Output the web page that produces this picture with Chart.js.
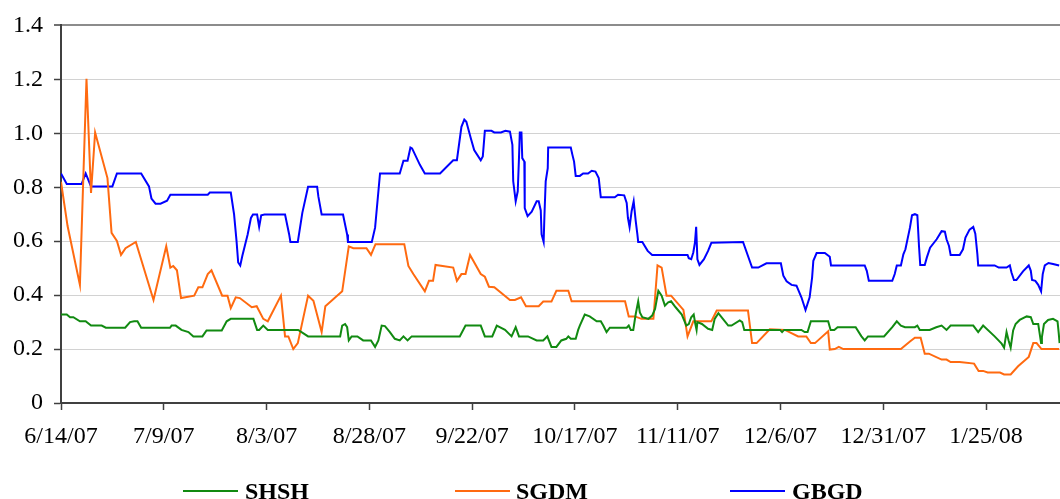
<!DOCTYPE html>
<html>
<head>
<meta charset="utf-8">
<script src="https://cdn.jsdelivr.net/npm/chart.js@4.4.0/dist/chart.umd.min.js"></script>
<style>
  body { margin: 0; background: #fff; overflow: hidden; }
  #wrap { position: relative; width: 1060px; height: 499px; }
  .key-line { position: absolute; top: 490px; width: 55px; height: 2px; }
  .key-text { position: absolute; top: 479px; font: bold 24px "Liberation Serif", "Times New Roman", serif; line-height: 24px; color: #000; }
</style>
</head>
<body>
<div id="wrap">
  <canvas id="spreads" width="1060" height="499"></canvas>
  <div class="key-line" style="left:183px;background:#118a11"></div>
  <div class="key-text" style="left:245px">SHSH</div>
  <div class="key-line" style="left:455px;background:#ff6a10"></div>
  <div class="key-text" style="left:516px">SGDM</div>
  <div class="key-line" style="left:730px;background:#0000ff"></div>
  <div class="key-text" style="left:792px">GBGD</div>
</div>
<script>
// ------------- data (x = days after 6/14/07) --------------------------- //

var startDate = Date.UTC(2007, 5, 14)

var yTicks = [0, 0.2, 0.4, 0.6, 0.8, 1, 1.2, 1.4]

var shshDays = [0, 1.4, 2.2, 3.0, 4.6, 6.0, 7.3, 9.9, 10.9, 15.6, 16.8, 17.8, 18.6, 19.5, 26.5, 26.9, 27.9, 29.3, 31.0, 32.2, 34.4, 35.4, 39.1, 40.3, 41.3, 46.8, 47.7, 48.2, 49.2, 50.3, 57.7, 60.1, 67.9, 68.4, 69.1, 69.6, 70.0, 70.7, 72.1, 73.5, 75.4, 76.4, 77.2, 78.0, 78.8, 80.0, 81.2, 82.4, 83.3, 84.3, 85.3, 97.0, 98.4, 102.1, 103.1, 104.9, 106.0, 108.0, 109.6, 110.6, 111.4, 113.6, 115.7, 117.3, 118.3, 119.3, 120.5, 121.7, 122.9, 123.4, 124.0, 125.2, 125.8, 126.2, 127.4, 128.6, 130.3, 131.3, 131.9, 132.7, 133.5, 137.6, 138.1, 138.6, 139.2, 139.8, 140.4, 140.8, 141.4, 142.9, 143.8, 144.5, 145.3, 146.1, 146.9, 147.7, 148.4, 149.5, 151.0, 152.1, 152.7, 153.3, 153.9, 154.3, 154.6, 154.8, 155.9, 157.4, 158.4, 159.0, 159.9, 161.0, 162.3, 163.1, 165.1, 165.7, 166.2, 174.9, 175.4, 175.9, 180.1, 180.9, 181.6, 182.4, 186.6, 187.2, 188.1, 188.9, 193.3, 194.7, 195.5, 196.3, 200.2, 202.2, 203.3, 204.3, 205.3, 207.7, 208.3, 208.9, 211.3, 212.9, 214.2, 215.4, 216.4, 221.9, 223.1, 224.3, 227.1, 228.8, 229.4, 230.0, 230.5, 231.0, 231.6, 232.2, 233.2, 234.9, 235.9, 236.5, 237.7, 238.4, 238.6, 239.1, 240.1, 241.3, 242.4, 242.7, 242.9]
var shshValues = [0.328, 0.328, 0.318, 0.318, 0.303, 0.303, 0.287, 0.287, 0.279, 0.279, 0.300, 0.303, 0.303, 0.279, 0.279, 0.287, 0.287, 0.271, 0.263, 0.247, 0.247, 0.269, 0.269, 0.303, 0.312, 0.312, 0.271, 0.271, 0.287, 0.271, 0.271, 0.247, 0.247, 0.287, 0.293, 0.281, 0.232, 0.247, 0.247, 0.232, 0.232, 0.208, 0.232, 0.287, 0.285, 0.263, 0.238, 0.232, 0.247, 0.232, 0.247, 0.247, 0.287, 0.287, 0.247, 0.247, 0.287, 0.271, 0.247, 0.281, 0.247, 0.247, 0.232, 0.232, 0.247, 0.208, 0.208, 0.232, 0.238, 0.247, 0.238, 0.238, 0.271, 0.287, 0.328, 0.321, 0.303, 0.303, 0.287, 0.263, 0.279, 0.279, 0.287, 0.271, 0.271, 0.330, 0.377, 0.336, 0.318, 0.312, 0.324, 0.349, 0.416, 0.398, 0.361, 0.373, 0.377, 0.355, 0.328, 0.287, 0.293, 0.318, 0.328, 0.293, 0.271, 0.300, 0.293, 0.275, 0.271, 0.312, 0.333, 0.312, 0.287, 0.287, 0.306, 0.300, 0.271, 0.271, 0.263, 0.271, 0.271, 0.263, 0.263, 0.303, 0.303, 0.271, 0.271, 0.281, 0.281, 0.247, 0.232, 0.247, 0.247, 0.281, 0.303, 0.287, 0.281, 0.281, 0.287, 0.271, 0.271, 0.281, 0.287, 0.271, 0.287, 0.287, 0.263, 0.287, 0.247, 0.220, 0.205, 0.263, 0.232, 0.205, 0.269, 0.293, 0.308, 0.321, 0.318, 0.293, 0.293, 0.222, 0.244, 0.293, 0.308, 0.312, 0.303, 0.257, 0.222]

var sgdmDays = [0, 1.6, 4.6, 5.4, 6.2, 7.3, 8.3, 11.3, 12.3, 13.6, 14.6, 15.7, 18.2, 22.5, 25.6, 26.6, 27.3, 28.2, 29.2, 32.4, 33.4, 34.4, 35.7, 36.6, 39.2, 40.5, 41.3, 42.5, 43.5, 46.4, 47.6, 49.2, 50.3, 53.5, 54.5, 55.3, 56.5, 57.6, 60.1, 61.4, 63.4, 64.3, 68.4, 70.0, 71.1, 74.3, 75.4, 76.5, 83.5, 84.5, 85.7, 88.5, 89.5, 90.5, 91.1, 95.4, 96.3, 97.4, 98.4, 99.5, 102.1, 103.1, 104.1, 105.4, 109.2, 110.4, 111.9, 113.1, 116.2, 117.3, 119.3, 120.5, 123.4, 124.2, 137.2, 138.1, 139.6, 141.2, 144.1, 145.1, 146.1, 147.3, 148.4, 151.4, 152.4, 153.8, 158.2, 159.5, 167.1, 168.1, 169.2, 172.4, 176.1, 179.3, 181.3, 182.4, 183.4, 186.6, 187.0, 188.2, 189.2, 190.3, 204.3, 206.5, 207.7, 209.1, 210.1, 211.1, 214.2, 215.4, 216.4, 218.6, 222.1, 223.2, 224.3, 225.4, 228.4, 229.4, 231.0, 232.8, 235.4, 236.5, 237.3, 238.5, 242.8]
var sgdmValues = [0.820, 0.656, 0.438, 0.822, 1.202, 0.779, 1.003, 0.834, 0.631, 0.601, 0.549, 0.574, 0.597, 0.382, 0.581, 0.502, 0.508, 0.492, 0.389, 0.398, 0.429, 0.429, 0.478, 0.492, 0.398, 0.398, 0.352, 0.392, 0.389, 0.355, 0.359, 0.312, 0.303, 0.398, 0.247, 0.247, 0.200, 0.222, 0.398, 0.379, 0.263, 0.359, 0.414, 0.581, 0.574, 0.574, 0.549, 0.589, 0.589, 0.508, 0.478, 0.414, 0.453, 0.453, 0.512, 0.502, 0.453, 0.478, 0.478, 0.549, 0.478, 0.468, 0.431, 0.429, 0.382, 0.382, 0.392, 0.359, 0.359, 0.376, 0.376, 0.416, 0.416, 0.377, 0.377, 0.321, 0.321, 0.312, 0.312, 0.510, 0.502, 0.398, 0.398, 0.345, 0.247, 0.303, 0.303, 0.343, 0.343, 0.222, 0.222, 0.273, 0.271, 0.247, 0.247, 0.222, 0.222, 0.266, 0.198, 0.200, 0.208, 0.200, 0.200, 0.228, 0.242, 0.242, 0.183, 0.183, 0.161, 0.161, 0.152, 0.152, 0.146, 0.119, 0.119, 0.113, 0.113, 0.106, 0.106, 0.136, 0.171, 0.222, 0.222, 0.200, 0.200]

var gbgdDays = [0, 1.4, 5.0, 6.0, 7.3, 12.5, 13.6, 19.5, 21.4, 22.0, 23.0, 24.2, 25.8, 26.6, 35.7, 36.2, 41.3, 42.1, 42.7, 43.1, 43.6, 44.1, 45.4, 46.2, 46.7, 47.7, 48.2, 48.7, 49.5, 54.5, 55.5, 55.8, 57.6, 58.7, 60.1, 62.3, 62.6, 63.4, 68.6, 69.6, 69.8, 75.6, 76.4, 77.6, 82.4, 83.3, 84.3, 85.0, 85.4, 87.3, 88.5, 92.2, 95.4, 96.3, 97.4, 98.1, 98.6, 99.7, 100.5, 102.1, 102.6, 103.1, 104.7, 105.4, 107.0, 108.1, 109.2, 109.8, 110.0, 110.6, 111.1, 111.4, 111.6, 112.0, 112.2, 112.7, 112.8, 113.5, 114.5, 115.7, 116.2, 116.7, 116.9, 117.4, 117.6, 117.9, 118.4, 118.5, 124.0, 124.4, 124.8, 125.2, 126.2, 127.0, 128.2, 129.1, 130.0, 130.8, 131.3, 134.7, 135.5, 137.0, 137.6, 137.9, 138.3, 138.8, 139.3, 139.8, 140.2, 140.4, 141.4, 142.7, 143.8, 152.4, 152.7, 153.3, 153.8, 154.2, 154.5, 154.8, 155.3, 156.4, 157.4, 158.2, 165.9, 168.1, 169.6, 171.6, 175.1, 175.7, 176.5, 177.7, 178.9, 180.1, 181.1, 182.1, 182.7, 183.0, 183.8, 185.8, 187.0, 187.3, 195.5, 196.0, 196.5, 202.2, 202.8, 203.3, 204.3, 204.9, 205.4, 206.5, 207.0, 207.7, 208.3, 208.7, 209.0, 210.1, 210.6, 211.4, 213.0, 214.2, 215.0, 215.4, 216.0, 216.4, 218.6, 219.4, 220.0, 221.0, 221.9, 222.4, 222.9, 223.1, 227.1, 228.1, 230.0, 230.8, 231.2, 231.8, 232.4, 234.0, 235.4, 235.9, 236.2, 237.0, 237.7, 238.4, 238.8, 239.3, 240.2, 241.3, 242.8]
var gbgdValues = [0.851, 0.812, 0.812, 0.851, 0.803, 0.803, 0.851, 0.851, 0.803, 0.758, 0.739, 0.739, 0.750, 0.772, 0.772, 0.780, 0.780, 0.699, 0.600, 0.521, 0.510, 0.545, 0.625, 0.686, 0.699, 0.699, 0.653, 0.696, 0.699, 0.699, 0.625, 0.597, 0.597, 0.705, 0.802, 0.802, 0.766, 0.699, 0.699, 0.625, 0.597, 0.597, 0.650, 0.851, 0.851, 0.898, 0.898, 0.947, 0.944, 0.883, 0.851, 0.851, 0.900, 0.900, 1.024, 1.051, 1.043, 0.981, 0.938, 0.900, 0.914, 1.009, 1.009, 1.003, 1.003, 1.009, 1.006, 0.957, 0.822, 0.748, 0.785, 0.908, 1.003, 1.003, 0.908, 0.895, 0.723, 0.693, 0.709, 0.748, 0.748, 0.714, 0.625, 0.597, 0.699, 0.822, 0.871, 0.947, 0.947, 0.920, 0.895, 0.842, 0.842, 0.851, 0.851, 0.861, 0.858, 0.834, 0.763, 0.763, 0.772, 0.770, 0.742, 0.686, 0.652, 0.711, 0.748, 0.674, 0.625, 0.597, 0.597, 0.564, 0.549, 0.549, 0.537, 0.533, 0.558, 0.594, 0.653, 0.533, 0.512, 0.533, 0.564, 0.594, 0.597, 0.502, 0.502, 0.518, 0.518, 0.472, 0.451, 0.438, 0.435, 0.392, 0.345, 0.392, 0.465, 0.527, 0.556, 0.556, 0.542, 0.510, 0.510, 0.490, 0.453, 0.453, 0.478, 0.510, 0.510, 0.551, 0.570, 0.650, 0.696, 0.700, 0.696, 0.582, 0.512, 0.512, 0.539, 0.576, 0.607, 0.637, 0.635, 0.607, 0.582, 0.549, 0.549, 0.570, 0.613, 0.643, 0.653, 0.628, 0.552, 0.510, 0.510, 0.502, 0.502, 0.510, 0.484, 0.456, 0.456, 0.488, 0.510, 0.490, 0.456, 0.453, 0.438, 0.414, 0.478, 0.510, 0.519, 0.515, 0.510]

function toPoints(days, values) {
    return days.map(function (d, i) { return { x: d, y: values[i] } })
}

function dayLabel(d) {
    var dt = new Date(startDate + d * 86400000)
    var yy = String(dt.getUTCFullYear()).slice(2)
    return (dt.getUTCMonth() + 1) + "/" + dt.getUTCDate() + "/" + yy
}

var axisColor = "#404040"
var serif = "'Liberation Serif', 'Times New Roman', serif"

// ------------- chart --------------------------- //

var spreadsChart = new Chart("spreads", {
    type: "line",
    data: {
        datasets: [{
            label: "SHSH",
            data: toPoints(shshDays, shshValues),
            borderColor: "#118a11",
            backgroundColor: "#118a11"
        }, {
            label: "SGDM",
            data: toPoints(sgdmDays, sgdmValues),
            borderColor: "#ff6a10",
            backgroundColor: "#ff6a10"
        }, {
            label: "GBGD",
            data: toPoints(gbgdDays, gbgdValues),
            borderColor: "#0000ff",
            backgroundColor: "#0000ff"
        }]
    },
    options: {
        responsive: false,
        animation: false,
        layout: { padding: { top: 23, right: 0, bottom: 46, left: 0 } },
        elements: {
            line: { borderWidth: 2, tension: 0 },
            point: { radius: 0, hoverRadius: 0 }
        },
        plugins: {
            legend: { display: false },
            tooltip: { enabled: false }
        },
        scales: {
            x: {
                type: "linear",
                min: 0,
                max: 243,
                afterFit: function (scale) { scale.height = 50 },
                border: { color: axisColor, width: 2 },
                grid: { drawOnChartArea: false, tickLength: 7, tickColor: axisColor, tickWidth: 1.5 },
                ticks: {
                    stepSize: 25,
                    includeBounds: false,
                    autoSkip: false,
                    maxRotation: 0,
                    padding: 12,
                    color: "#000",
                    font: { family: serif, size: 24 },
                    callback: function (v) { return dayLabel(v) }
                }
            },
            y: {
                min: 0,
                max: 1.4,
                afterFit: function (scale) { scale.width = 61 },
                afterBuildTicks: function (scale) {
                    scale.ticks = yTicks.map(function (v) { return { value: v } })
                },
                border: { color: axisColor, width: 2 },
                grid: {
                    color: function (c) { return c.tick && c.tick.value === 1.4 ? "#8c8c8c" : "#d2d2d2" },
                    lineWidth: function (c) { return c.tick && c.tick.value === 1.4 ? 2 : 1 },
                    tickLength: 7,
                    tickColor: axisColor,
                    tickWidth: 1.5
                },
                ticks: {
                    padding: 11,
                    color: "#000",
                    font: { family: serif, size: 24 }
                }
            }
        }
    }
});
</script>
</body>
</html>
